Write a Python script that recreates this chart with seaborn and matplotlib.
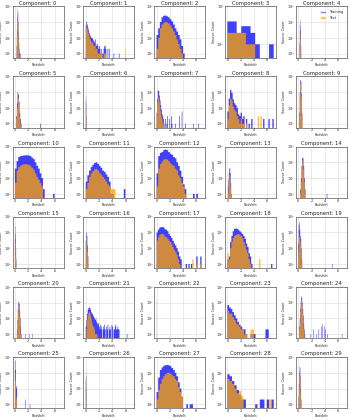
import numpy as np
import pandas as pd
import matplotlib
matplotlib.use("Agg")
import matplotlib.pyplot as plt
from matplotlib.patches import Patch
import seaborn as sns

# ---------------- data ----------------
components = list(range(30))
bin_start = [0.25, 0, 0, 0, 0.2, 0.2, 0, 0, 0, 0.15,
             0, 0, 0, 0.08, 0.3, 0, 0, 0, 0, 0,
             0.3, 0, 0.01, 0, 0.15, 0, 0, 0, 0, 0.05]
bin_width = [0.05, 0.1, 0.25, 0.7, 0.05, 0.1, 0.03, 0.1, 0.2, 0.08,
             0.25, 0.25, 0.25, 0.07, 0.1, 0.045, 0.08, 0.2, 0.2, 0.075,
             0.07, 0.1, 0.005, 0.25, 0.075, 0.08, 0.03, 0.25, 0.35, 0.055]

train_counts = [
    [3, 30, 200, 650, 400, 100, 20, 5, 2, 1, 1, 1],
    [60, 100, 70, 45, 30, 20, 15, 12, 10, 10, 9, 7, 6, 5, 8, 4, 3, 4, 3, 2, 3, 2, 1, 2, 0, 1, 1, 2, 3, 3,
     2, 0, 0, 2, 0, 2, 0, 0, 0, 0, 0, 0, 1, 0, 0, 0, 0, 0, 0, 0, 1],
    [15, 40, 100, 200, 250, 260, 230, 200, 150, 110, 70, 40, 25, 15, 8, 3, 1],
    [4, 4, 2, 3, 3, 2, 1, 0, 0, 1],
    [5, 60, 140, 30, 3],
    [3, 20, 100, 70, 25, 5, 2, 1],
    [30, 60, 20, 3],
    [5, 40, 130, 120, 60, 30, 15, 8, 4, 3, 2, 1, 0, 2, 0, 1, 3, 0, 0, 2, 0, 0, 3, 1, 0, 0, 0, 0, 1, 0,
     0, 0, 0, 0, 3, 0, 0, 0, 6, 0, 0, 0, 0, 1],
    [6, 40, 140, 90, 35, 20, 15, 10, 4, 3, 5, 2, 3, 0, 2, 0, 1, 0, 2, 0, 0, 0, 0, 0, 0, 0, 0, 2, 0, 0,
     0, 2, 0, 0, 2],
    [5, 100, 600, 500, 80, 5],
    [40, 120, 220, 250, 260, 270, 280, 280, 270, 250, 200, 160, 100, 60, 40, 20, 10, 2, 0, 0, 0, 0, 0, 1],
    [6, 15, 30, 50, 70, 90, 100, 80, 60, 45, 30, 25, 17, 12, 6, 1, 1, 0, 0, 0, 0, 0, 0, 2],
    [20, 250, 400, 450, 600, 650, 600, 450, 350, 300, 220, 180, 100, 60, 30, 12, 4, 2, 0, 0, 0, 0, 1, 0, 1],
    [3, 8, 20, 40, 45, 20, 5, 1],
    [2, 10, 60, 200, 180, 60, 10, 2],
    [40, 250, 80, 10, 2],
    [30, 100, 60, 15, 3],
    [100, 150, 200, 220, 220, 210, 160, 150, 120, 80, 60, 45, 30, 20, 15, 10, 6, 3, 2, 0, 0, 0, 1, 0, 1,
     0, 1, 0, 0, 0, 3, 0, 0, 3],
    [2, 3, 25, 60, 120, 170, 180, 170, 150, 120, 100, 80, 60, 40, 20, 12, 5, 3, 1, 0, 0, 0, 0, 0, 0, 0,
     0, 0, 0, 0, 0, 0, 0, 1],
    [20, 300, 450, 150, 60, 40, 10, 2],
    [2, 8, 40, 100, 120, 80, 30, 10, 3, 1],
    [3, 8, 20, 35, 45, 50, 45, 35, 25, 20, 20, 15, 12, 10, 8, 10, 6, 5, 4, 5, 3, 2, 4, 3, 2, 0, 3, 2, 4, 2,
     0, 3, 2, 4, 0, 2, 3, 2, 0, 4, 3, 0, 2, 2, 3, 4, 2, 2, 3, 2, 2],
    [200, 500, 100],
    [70, 50, 40, 25, 16, 10, 6, 4, 3, 2, 2, 1, 0, 0, 1, 1, 1, 0, 0, 0, 0, 0, 0, 2, 2],
    [3, 10, 40, 120, 250, 200, 100, 40, 15, 5, 2, 1],
    [600, 150, 10, 15],
    [40, 120, 60, 10],
    [6, 50, 150, 220, 280, 300, 320, 300, 260, 200, 150, 100, 60, 25, 10, 3, 0, 0, 1, 0, 1, 1],
    [80, 60, 30, 16, 8, 4, 2, 2, 0, 0, 0, 0, 1, 0, 2, 2, 0, 2, 0, 2],
    [3, 20, 100, 250, 200, 60, 10, 2],
]

test_counts = [
    [1, 15, 100, 280, 180, 40, 8, 2, 1],
    [40, 60, 40, 25, 18, 12, 9, 7, 6, 5, 5, 4, 3, 3, 4, 2, 2, 2, 1, 1, 1, 1, 1, 1, 0, 0, 0, 1, 1, 1, 1],
    [2, 10, 40, 70, 90, 100, 95, 80, 60, 40, 25, 15, 8, 4, 2, 1],
    [2, 2, 2, 2, 1, 1],
    [2, 15, 30, 8, 1],
    [2, 10, 50, 40, 15, 3, 1],
    [10, 25, 8, 1],
    [3, 20, 50, 45, 25, 12, 6, 3, 2, 1, 1],
    [2, 15, 40, 30, 12, 8, 6, 3, 2, 1, 2, 1, 1, 0, 1, 0, 0, 0, 0, 0, 0, 0, 0, 3, 0, 3],
    [3, 60, 350, 300, 50, 3],
    [5, 30, 50, 60, 70, 75, 75, 75, 70, 60, 45, 35, 20, 12, 8, 5, 3],
    [2, 5, 12, 20, 28, 35, 38, 30, 22, 16, 12, 9, 6, 4, 3, 2, 2, 2],
    [3, 40, 80, 110, 150, 160, 150, 120, 90, 70, 60, 40, 30, 15, 10, 5, 3, 1],
    [1, 3, 8, 15, 18, 8, 2],
    [1, 5, 40, 130, 110, 35, 5, 1],
    [10, 55, 20, 3],
    [15, 45, 25, 6, 1],
    [30, 50, 70, 80, 80, 75, 55, 50, 40, 30, 25, 18, 12, 8, 6, 4, 2, 1, 0, 0, 0, 0, 0, 0, 0, 0, 0, 2, 0, 0,
     1, 0, 0, 1],
    [5, 2, 10, 25, 45, 60, 70, 75, 80, 70, 60, 45, 25, 15, 8, 5, 2, 1, 0, 0, 0, 0, 0, 0, 2],
    [5, 40, 60, 50, 30, 15, 5, 1],
    [1, 5, 25, 60, 70, 45, 15, 5, 1],
    [0, 2, 8, 15, 22, 25, 22, 15, 10, 6, 4, 3, 3, 2, 1, 1, 1, 0, 1],
    [20, 40, 10],
    [30, 20, 20, 12, 8, 5, 4, 3, 2, 2, 1, 1, 0, 0, 2, 2],
    [2, 6, 25, 80, 150, 120, 60, 20, 6, 2, 1],
    [100, 30, 3, 2],
    [20, 50, 25, 4],
    [2, 8, 20, 40, 60, 80, 100, 100, 90, 70, 60, 40, 30, 12, 6, 3],
    [40, 30, 20, 10, 5, 7, 3, 0, 0, 0, 0, 0, 0, 0, 0, 0, 0, 0, 2],
    [2, 10, 60, 130, 100, 30, 5, 1],
]

# isolated outlier bars far from the main peak: redshift -> count
train_extra_z = {5: [3.85], 7: [5.55, 6.35], 14: [4.3], 19: [5.12], 20: [1.62, 2.12, 2.62],
                 21: [6.25], 24: [1.92, 2.32, 2.72, 3.12, 3.52, 3.72, 3.92, 4.12, 4.42, 6.62],
                 25: [1.62, 2.26]}
train_extra_n = {5: [1], 7: [1, 1], 14: [1], 19: [1], 20: [1, 1, 1],
                 21: [1], 24: [1, 2, 1, 2, 3, 4, 3, 2, 1, 1],
                 25: [2, 1]}
test_extra_z = {1: [6.05]}
test_extra_n = {1: [2]}

series_names = ["Training", "Test"]
series_colors = ["blue", "orange"]

# ---------------- plotting ----------------
sns.set_style("whitegrid", {"axes.edgecolor": "0.35", "grid.color": "0.86"})
plt.rcParams["font.family"] = ["DejaVu Sans"]
plt.rcParams["grid.linewidth"] = 0.4
plt.rcParams["axes.linewidth"] = 0.5

fig, axes = plt.subplots(6, 5, figsize=(3.5, 4.2), dpi=100)
fig.subplots_adjust(left=0.036, right=0.991, top=0.985, bottom=0.028,
                    wspace=0.39, hspace=0.37)


def make_frame(start, w, counts, ez, en):
    z = [start + w * (k + 0.5) for k in range(len(counts))] + list(ez)
    n = list(counts) + list(en)
    return pd.DataFrame({"z": z, "n": n})


for i, ax in zip(components, axes.flat):
    start, w = bin_start[i], bin_width[i]
    frames = [
        make_frame(start, w, train_counts[i], train_extra_z.get(i, []), train_extra_n.get(i, [])),
        make_frame(start, w, test_counts[i], test_extra_z.get(i, []), test_extra_n.get(i, [])),
    ]
    zmax = max(f["z"].max() for f in frames)
    nb = int(np.ceil((zmax - start) / w)) + 1
    edges = [float(start + w * k) for k in range(nb + 1)]
    for df, col in zip(frames, series_colors):
        sns.histplot(data=df, x="z", weights="n", bins=edges, color=col,
                     element="step", fill=True, alpha=0.75, linewidth=0,
                     snap=False, ax=ax)
    ax.set_yscale("log")
    if i == 3:
        ax.set_ylim(0.45, 10)
    else:
        ax.set_ylim(0.56, 1000)
    ax.set_xlim(-0.35, 7.35)
    ax.set_xticks([0, 2, 4, 6])
    ax.grid(True, which="major", linewidth=0.4)
    ax.grid(False, which="minor")
    ax.set_title(f"Component: {i}", fontsize=3.8, pad=1.2)
    ax.set_xlabel("Redshift", fontsize=2.4, labelpad=0.6)
    ax.set_ylabel("Source Count", fontsize=2.4, labelpad=0.6)
    ax.tick_params(axis="both", which="both", labelsize=2.5, pad=0.6, length=0)
    for s in ax.spines.values():
        s.set_linewidth(0.5)
    if i == 4:
        handles = [Patch(facecolor=c, alpha=0.75, label=n) for n, c in zip(series_names, series_colors)]
        ax.legend(handles=handles, loc="upper right", fontsize=2.6, frameon=False,
                  handlelength=1.6, handleheight=0.8, borderpad=0.6)

fig.savefig("out.png", dpi=100)
